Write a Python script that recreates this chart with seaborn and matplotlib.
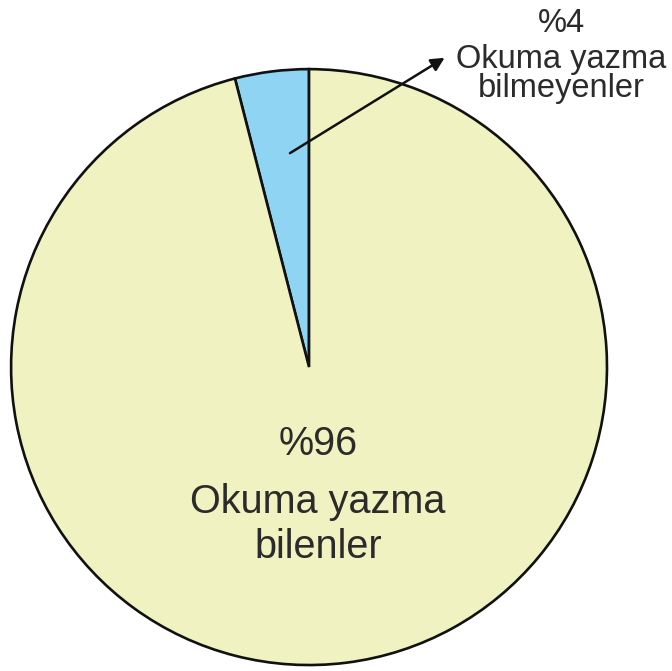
import numpy as np
import matplotlib
matplotlib.use('Agg')
import matplotlib.pyplot as plt
import seaborn as sns

### Data ###
groups = ['Okuma yazma bilmeyenler', 'Okuma yazma bilenler']
percent = [4, 96]
colors = ['#8fd4f2', '#f0f2c1']

sns.set_theme(style='white')
plt.rcParams['font.family'] = ['Liberation Sans', 'DejaVu Sans']

fig = plt.figure(figsize=(6.72, 6.71), dpi=100)
ax = fig.add_axes([0, 0, 1, 1])

# pie starting at the top, small slice going counterclockwise
wedges, _ = ax.pie(percent, colors=colors, startangle=90, counterclock=True,
                   radius=1, wedgeprops=dict(edgecolor='#111111', linewidth=1.9))

# limits so that the circle sits where it is in the picture (center ~ (309,367) px, r ~ 298 px)
ax.set_xlim(-1.037, 1.218)
ax.set_ylim(-1.020, 1.232)
ax.set_aspect('equal')
ax.axis('off')

txt_col = '#2b2b2b'

# small slice label, outside with arrow
words = groups[0].split(' ')
lines_small = ['%' + str(percent[0]), ' '.join(words[:2]), words[2]]
for line, yb in zip(lines_small, [1.124, 1.003, 0.906]):
    ax.text(0.846, yb, line, ha='center', va='baseline', fontsize=23.5, color=txt_col)

ax.annotate('', xy=(0.455, 1.038), xytext=(-0.064, 0.718),
            arrowprops=dict(arrowstyle='-|>', color='#111111', lw=1.8,
                            mutation_scale=20, shrinkA=0, shrinkB=0))

# big slice label, inside
words = groups[1].split(' ')
lines_big = ['%' + str(percent[1]), ' '.join(words[:2]), words[2]]
for line, yb in zip(lines_big, [-0.295, -0.490, -0.641]):
    ax.text(0.030, yb, line, ha='center', va='baseline', fontsize=28.5, color=txt_col)

fig.savefig('out.png', dpi=100, facecolor='white')
